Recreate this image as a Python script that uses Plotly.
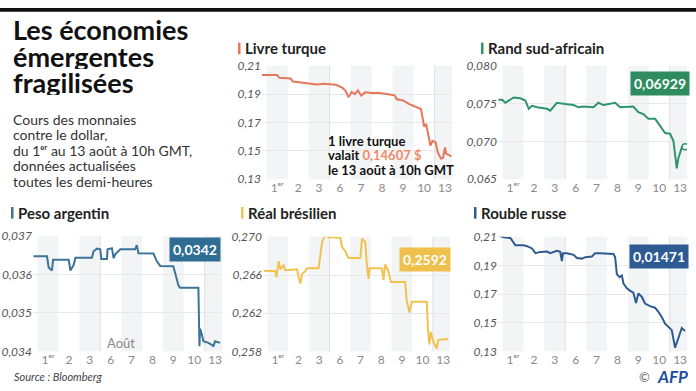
import plotly.graph_objects as go

# ---------------- data ----------------
days = ['1ᵉʳ', '2', '3', '6', '7', '8', '9', '10', '13']
day_idx = list(range(9))

# time in trading-day units (0 = 1er août ... 8 = 13 août)
livre_t = [-0.72, 0.0, 0.1, 0.4, 0.65, 0.75, 1.1, 1.5, 1.9, 2.2, 2.5, 2.8, 3.1, 3.25, 3.4, 3.55, 3.7, 3.85,
           4.0, 4.2, 4.5, 4.8, 5.2, 5.6, 5.7, 6.0, 6.3, 6.65, 6.85, 6.95, 7.0, 7.1, 7.2, 7.3, 7.4, 7.55,
           7.65, 7.8, 7.9, 8.0, 8.05, 8.2, 8.3]
livre_v = [0.2035, 0.2035, 0.2015, 0.2012, 0.2010, 0.1988, 0.1982, 0.1978, 0.1968, 0.1972, 0.1970, 0.1965,
           0.1945, 0.1925, 0.1878, 0.1915, 0.1900, 0.1925, 0.1890, 0.1912, 0.1908, 0.1910, 0.1900, 0.1891,
           0.1863, 0.1855, 0.1829, 0.1806, 0.1795, 0.1716, 0.1670, 0.1690, 0.1625, 0.1537, 0.1570, 0.1560,
           0.1490, 0.1445, 0.1450, 0.1524, 0.1480, 0.1470, 0.1461]

rand_t = [-0.7, -0.52, -0.37, -0.21, 0.03, 0.35, 0.59, 0.75, 0.91, 1.15, 1.63, 1.78, 1.94, 2.1, 2.58, 2.9,
          3.14, 3.38, 3.85, 4.09, 4.33, 4.89, 5.13, 5.76, 6.0, 6.24, 6.48, 6.8, 6.96, 7.12, 7.28, 7.52,
          7.68, 7.84, 7.91, 8.08, 8.24]
rand_v = [0.0755, 0.0755, 0.0751, 0.0754, 0.0758, 0.0757, 0.0754, 0.0743, 0.0747, 0.0745, 0.0743, 0.07406,
          0.0746, 0.0751, 0.0749, 0.0748, 0.0745, 0.0746, 0.0745, 0.0751, 0.0748, 0.0751, 0.0745, 0.0746,
          0.07386, 0.0736, 0.0730, 0.0730, 0.07237, 0.07174, 0.0711, 0.0710, 0.07005, 0.06644, 0.0677,
          0.0692, 0.06929]

peso_t = [-0.7, -0.05, 0.03, 0.19, 0.24, 0.99, 1.07, 1.23, 1.31, 2.1, 2.18, 2.34, 2.5, 2.55, 2.82, 2.85,
          3.06, 3.14, 3.22, 3.46, 4.17, 4.25, 4.33, 4.73, 5.05, 5.21, 5.37, 6.0, 6.13, 6.24, 6.32, 7.2,
          7.25, 7.28, 7.36, 7.44, 7.68, 7.92, 8.0, 8.24]
peso_v = [0.03647, 0.03647, 0.03618, 0.03610, 0.03638, 0.03638, 0.03610, 0.03625, 0.03643, 0.03643,
          0.03660, 0.03667, 0.03665, 0.03640, 0.03640, 0.03665, 0.03668, 0.03642, 0.03652, 0.03665,
          0.03665, 0.03676, 0.03655, 0.03654, 0.03654, 0.03634, 0.03622, 0.03621, 0.03593, 0.03572,
          0.03565, 0.03565, 0.03413, 0.03459, 0.03445, 0.03426, 0.03422, 0.03414, 0.03426, 0.03422]

real_t = [-0.69, -0.12, -0.07, 0.04, 0.12, 0.28, 0.36, 0.93, 1.0, 1.09, 1.17, 1.33, 1.41, 1.97, 2.14, 2.29,
          2.45, 3.02, 3.1, 3.26, 3.42, 3.99, 4.07, 4.23, 4.31, 4.39, 4.44, 5.03, 5.11, 5.19, 5.35, 5.47,
          6.16, 6.24, 6.37, 6.48, 7.21, 7.26, 7.33, 7.4, 7.53, 7.69, 7.77, 8.25]
real_v = [0.26644, 0.26640, 0.26577, 0.26745, 0.26660, 0.26700, 0.26650, 0.26660, 0.26580, 0.26510,
          0.26610, 0.26640, 0.26670, 0.26670, 0.26947, 0.27020, 0.26995, 0.26990, 0.26896, 0.26850,
          0.26778, 0.26778, 0.26980, 0.26950, 0.26700, 0.26559, 0.26670, 0.26670, 0.26550, 0.26710,
          0.26640, 0.26526, 0.26526, 0.26324, 0.26206, 0.26320, 0.26320, 0.26039, 0.25871, 0.26000,
          0.25900, 0.25830, 0.25920, 0.25928]

rouble_t = [-0.69, -0.45, -0.13, 0.03, 0.11, 0.51, 0.67, 0.91, 1.07, 1.31, 1.63, 1.78, 2.1, 2.26, 2.34,
            2.39, 2.58, 2.9, 3.06, 3.3, 3.46, 3.78, 3.93, 4.17, 4.81, 4.89, 4.97, 5.1, 5.21, 5.29, 5.45,
            5.61, 5.76, 5.89, 6.0, 6.17, 6.32, 6.56, 6.8, 6.96, 7.12, 7.28, 7.44, 7.6, 7.76, 7.91, 8.08, 8.24]
rouble_v = [0.2109, 0.2098, 0.2092, 0.2064, 0.2042, 0.2042, 0.2035, 0.2019, 0.1986, 0.1995, 0.1997,
            0.1986, 0.2002, 0.1995, 0.1930, 0.1986, 0.1986, 0.1974, 0.1952, 0.1948, 0.1958, 0.1963,
            0.1986, 0.1986, 0.1980, 0.1958, 0.1840, 0.1818, 0.1830, 0.1773, 0.1741, 0.1723, 0.1710,
            0.1638, 0.1705, 0.1680, 0.1634, 0.1616, 0.1605, 0.1576, 0.1540, 0.1493, 0.1470, 0.1448,
            0.1325, 0.1392, 0.1463, 0.1441]

W, H = 696, 391
def px(x): return x / W
def py(y): return 1 - y / H

XR = [-0.72, 8.33]

panels = [
    dict(name='Livre turque', t=livre_t, v=livre_v, color='#e5785a', x0=262, x1=452, y0=60, y1=178,
         yr=[0.13, 0.21], ticks=[0.13, 0.15, 0.17, 0.19, 0.21], fmt='.2f', tx=243, ty=42, bx=238,
         box=None),
    dict(name='Rand sud-africain', t=rand_t, v=rand_v, color='#2f946a', x0=498, x1=687, y0=60, y1=178,
         yr=[0.065, 0.080], ticks=[0.065, 0.070, 0.075, 0.080], fmt='.3f', tx=486, ty=42, bx=481,
         box=('0,06929', 690, 78, '#2e8c60')),
    dict(name='Peso argentin', t=peso_t, v=peso_v, color='#3c7398', x0=33, x1=222, y0=237, y1=357,
         yr=[0.034, 0.037], ticks=[0.034, 0.035, 0.036, 0.037], fmt='.3f', tx=16, ty=213, bx=11,
         box=('0,0342', 221, 251, '#306d94')),
    dict(name='Réal brésilien', t=real_t, v=real_v, color='#f2c24f', x0=263, x1=450, y0=238, y1=357,
         yr=[0.258, 0.270], ticks=[0.258, 0.262, 0.266, 0.270], fmt='.3f', tx=246, ty=213, bx=241,
         box=('0,2592', 451, 262, '#f0c04c')),
    dict(name='Rouble russe', t=rouble_t, v=rouble_v, color='#2f5a90', x0=498, x1=687, y0=238, y1=357,
         yr=[0.13, 0.21], ticks=[0.13, 0.15, 0.17, 0.19, 0.21], fmt='.2f', tx=479, ty=213, bx=474,
         box=('0,01471', 689, 258, '#2d5a92')),
]

fig = go.Figure()
shapes = []
annotations = []
layout_axes = {}

for i, p in enumerate(panels):
    n = '' if i == 0 else str(i + 1)
    xa, ya = 'x' + n, 'y' + n
    fig.add_trace(go.Scatter(x=p['t'], y=p['v'], mode='lines', line=dict(color=p['color'], width=2),
                             xaxis=xa, yaxis=ya, showlegend=False, hoverinfo='skip'))
    layout_axes['xaxis' + n] = dict(domain=[px(p['x0']), px(p['x1'])], range=XR, anchor=ya,
                                    tickvals=day_idx, ticktext=days, showgrid=False, zeroline=False,
                                    showline=False, ticks='', fixedrange=True,
                                    tickfont=dict(family='Lato', size=12, color='#8a8a8a'))
    layout_axes['yaxis' + n] = dict(domain=[py(p['y1']), py(p['y0'])], range=p['yr'], anchor=xa,
                                    tickvals=p['ticks'], tickformat=p['fmt'], showgrid=True,
                                    gridcolor='#e8e8e8', gridwidth=1, zeroline=False, showline=False,
                                    ticks='', fixedrange=True,
                                    tickfont=dict(family='Lato', size=12, color='#555555', style='italic'))
    # alternating day bands
    for k in day_idx:
        if k % 2 == 0:
            shapes.append(dict(type='rect', xref=xa, yref=ya + ' domain',
                               x0=max(k - 0.5, XR[0]), x1=min(k + 0.5, XR[1]), y0=0, y1=1,
                               fillcolor='#f3f4f6', line=dict(width=0), layer='below'))
    for wk in (2.5, 7.5):
        shapes.append(dict(type='line', xref=xa, yref=ya + ' domain', x0=wk, x1=wk, y0=0, y1=1,
                           line=dict(color='#e0e0e0', width=1), layer='below'))
    # panel title
    shapes.append(dict(type='rect', xref='paper', yref='paper', x0=px(p['bx']), x1=px(p['bx'] + 2.5),
                       y0=py(p['ty'] + 6), y1=py(p['ty'] - 6), fillcolor=p['color'], line=dict(width=0)))
    annotations.append(dict(text='<b>' + p['name'] + '</b>', xref='paper', yref='paper', x=px(p['tx']),
                            y=py(p['ty']), xanchor='left', yanchor='middle', showarrow=False,
                            font=dict(family='Lato', size=15, color='#222222')))
    if p['box']:
        label, bxr, byc, bcol = p['box']
        annotations.append(dict(text='<b>' + label + '</b>', xref='paper', yref='paper', x=px(bxr),
                                y=py(byc), xanchor='right', yanchor='middle', showarrow=False,
                                bgcolor=bcol, borderpad=3,
                                font=dict(family='Lato', size=14, color='white')))

# end marker of the rand series
fig.add_trace(go.Scatter(x=[rand_t[-1]], y=[rand_v[-1]], mode='markers', xaxis='x2', yaxis='y2',
                         marker=dict(size=6, color='white', line=dict(color='#2f946a', width=1.5)),
                         showlegend=False, hoverinfo='skip'))

# top black band
shapes.append(dict(type='rect', xref='paper', yref='paper', x0=0, x1=1, y0=py(4), y1=1,
                   fillcolor='#111111', line=dict(width=0)))

# title and subtitle
for j, line in enumerate(['Les économies', 'émergentes', 'fragilisées']):
    annotations.append(dict(text='<b>' + line + '</b>', xref='paper', yref='paper', x=px(11),
                            y=py(22 + 27.5 * j), xanchor='left', yanchor='middle', showarrow=False,
                            height=26, font=dict(family='Lato', size=27, color='#111111')))
sub = ['Cours des monnaies', 'contre le dollar,', 'du 1ᵉʳ au 13 août à 10h GMT,',
       'données actualisées', 'toutes les demi-heures']
for j, line in enumerate(sub):
    annotations.append(dict(text=line, xref='paper', yref='paper', x=px(11), y=py(116 + 16 * j),
                            xanchor='left', yanchor='middle', showarrow=False,
                            font=dict(family='Lato', size=14, color='#333333')))

# turkish lira note
note = ['1 livre turque', 'valait <span style="color:#f08a6a">0,14607 $</span>', 'le 13 août à 10h GMT']
for j, line in enumerate(note):
    annotations.append(dict(text='<b>' + line + '</b>', xref='paper', yref='paper', x=px(326),
                            y=py(138 + 15 * j), xanchor='left', yanchor='middle', showarrow=False,
                            font=dict(family='Lato', size=13, color='#111111')))

annotations.append(dict(text='Août', xref='paper', yref='paper', x=px(121), y=py(348), xanchor='center',
                        yanchor='middle', showarrow=False, font=dict(family='Lato', size=13, color='#888888')))
annotations.append(dict(text='Source : Bloomberg', xref='paper', yref='paper', x=px(12), y=py(383),
                        xanchor='left', yanchor='middle', showarrow=False,
                        font=dict(family='Lato', size=11, color='#444444', style='italic')))
annotations.append(dict(text='©', xref='paper', yref='paper', x=px(652), y=py(384), xanchor='right',
                        yanchor='middle', showarrow=False, height=14,
                        font=dict(family='Lato', size=13, color='#666666')))
annotations.append(dict(text='<b><i>AFP</i></b>', xref='paper', yref='paper', x=px(690), y=py(383),
                        xanchor='right', yanchor='middle', showarrow=False, height=16,
                        font=dict(family='Lato', size=17, color='#1b4f9e')))

fig.update_layout(width=W, height=H, margin=dict(l=0, r=0, t=0, b=0), paper_bgcolor='white',
                  plot_bgcolor='white', separators=', ', shapes=shapes, annotations=annotations,
                  font=dict(family='Lato'), **layout_axes)

fig.write_html('out.html', config={'displayModeBar': False},
               post_script="document.body.style.margin='0';document.body.style.overflow='hidden';")
